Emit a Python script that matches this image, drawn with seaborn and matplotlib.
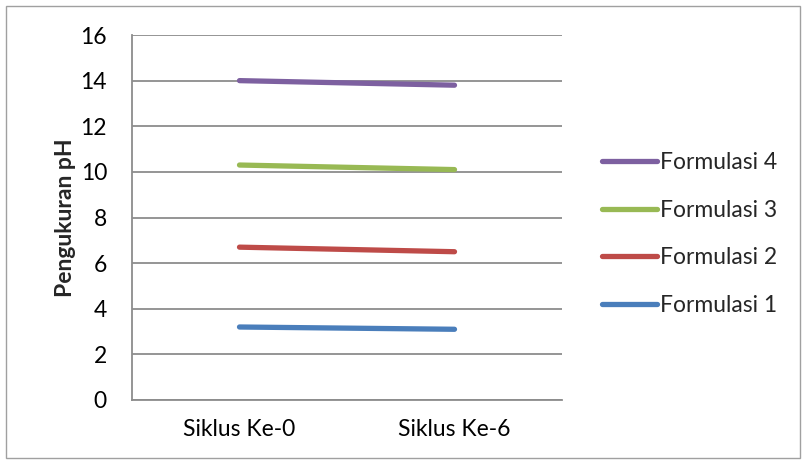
import matplotlib
matplotlib.use("Agg")
import matplotlib.pyplot as plt
import seaborn as sns
import pandas as pd
from matplotlib.patches import Rectangle
from matplotlib.lines import Line2D

categories = ["Siklus Ke-0", "Siklus Ke-6"]
formulasi_1 = [3.2, 3.1]
formulasi_2 = [6.7, 6.5]
formulasi_3 = [10.3, 10.1]
formulasi_4 = [14.0, 13.8]
series_names = ["Formulasi 1", "Formulasi 2", "Formulasi 3", "Formulasi 4"]
colors = ["#4A7EBB", "#BE4B48", "#98B954", "#7D60A0"]
y_ticks = [0, 2, 4, 6, 8, 10, 12, 14, 16]

rows = []
for name, vals in zip(series_names, [formulasi_1, formulasi_2, formulasi_3, formulasi_4]):
    for i, (c, v) in enumerate(zip(categories, vals)):
        rows.append({"Siklus": c, "x": i, "pH": v, "Formulasi": name})
df = pd.DataFrame(rows)

sns.set_theme(style="white")
plt.rcParams["font.family"] = ["Lato", "DejaVu Sans"]

FS = 16.5
fig = plt.figure(figsize=(8.06, 4.62), dpi=100)
ax = fig.add_axes([132/806, 62/462, 430/806, 365/462])

sns.lineplot(data=df, x="x", y="pH", hue="Formulasi", hue_order=series_names,
             palette=colors, linewidth=3.8, ax=ax, legend=False,
             solid_capstyle="round", zorder=3)

ax.set_xlim(-0.5, 1.5)
ax.set_ylim(0, 16)
ax.set_yticks(y_ticks)
ax.set_yticklabels([str(t) for t in y_ticks], fontsize=FS, color="black")
ax.set_xticks([0, 1])
ax.set_xticklabels(categories, fontsize=FS, color="black")
ax.tick_params(axis="x", length=0, pad=14)
ax.tick_params(axis="y", length=0, pad=18)
ax.yaxis.grid(True, color="#8C8C8C", linewidth=1.3)
ax.set_axisbelow(True)
for s in ["top", "right"]:
    ax.spines[s].set_visible(False)
for s in ["left", "bottom"]:
    ax.spines[s].set_color("#8C8C8C")
    ax.spines[s].set_linewidth(1.3)
ax.set_xlabel("")
ax.set_ylabel("Pengukuran pH", fontsize=FS, fontweight="bold", labelpad=3)

leg_handles = [Line2D([0], [0], color=c, linewidth=3.8, solid_capstyle="round") for c in colors]
leg = fig.legend(leg_handles[::-1], series_names[::-1], loc="center left",
                 bbox_to_anchor=(597/806, 228/462), frameon=False, fontsize=FS,
                 handlelength=2.4, handletextpad=0.15, labelspacing=1.15,
                 borderpad=0.2, borderaxespad=0)

fig.patches.append(Rectangle((6/806, 4/462), 794/806, 452/462, transform=fig.transFigure,
                             fill=False, edgecolor="#A0A0A0", linewidth=1.0))

fig.savefig("out.png", dpi=100)
